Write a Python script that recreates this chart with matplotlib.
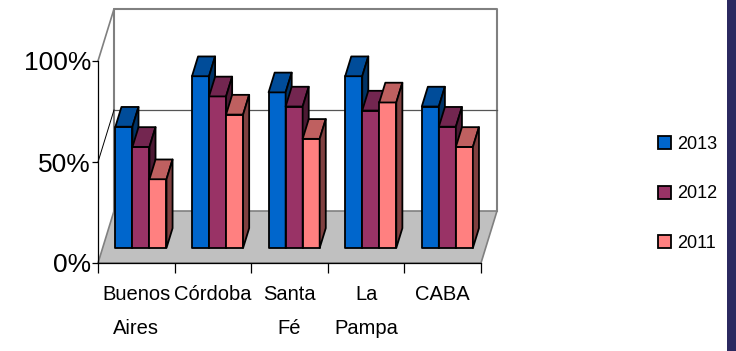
import numpy as np
import matplotlib.pyplot as plt
from matplotlib.patches import Polygon, Patch, Rectangle

# share of each province per year (%)
provinces = ["Buenos\nAires", "Córdoba", "Santa\nFé", "La\nPampa", "CABA"]
years = ["2013", "2012", "2011"]
v2013 = [60, 85, 77, 85, 70]
v2012 = [50, 75, 70, 68, 60]
v2011 = [34, 66, 54, 72, 50]
series = [v2013, v2012, v2011]

# face colours: front, top, side
front = ["#0066CC", "#993366", "#FF8080"]
top = ["#004C99", "#732650", "#BF6060"]
side = ["#003366", "#4C1933", "#804040"]

plt.rcParams['font.family'] = ['Liberation Sans', 'DejaVu Sans']

W, H = 736, 351
fig = plt.figure(figsize=(W / 100, H / 100), dpi=100)
# front plane: x 98..481 px, y 61..263 px
ax = fig.add_axes([98 / W, 1 - 263 / H, (481 - 98) / W, (263 - 61) / H])
ncat = len(provinces)
ax.set_xlim(0, ncat)
ax.set_ylim(0, 100)

# oblique depth offset (data units) of the whole chart box
DX, DY = 16 / 76.6, 52 / 2.02
wall = "#808080"

# floor
floor = Polygon([(0, 0), (ncat, 0), (ncat + DX, DY), (DX, DY)], closed=True,
                facecolor="#C0C0C0", edgecolor=wall, lw=1.2, clip_on=False, zorder=1)
ax.add_patch(floor)
# back wall outline and gridline
ax.plot([DX, DX, ncat + DX, ncat + DX], [DY, 100 + DY, 100 + DY, DY],
        color=wall, lw=1.5, clip_on=False, zorder=1)
ax.plot([DX, ncat + DX], [50 + DY, 50 + DY], color="#555555", lw=0.9,
        clip_on=False, zorder=1)
# side wall lines
ax.plot([0, DX], [100, 100 + DY], color=wall, lw=1.2, clip_on=False, zorder=1)
ax.plot([0, DX], [50, 50 + DY], color="black", lw=0.7, clip_on=False, zorder=1)

# bars sit partway into the depth
d0, d1 = 0.29, 0.67
bw = 0.667 / len(series)
for i in range(ncat):
    x0 = i + 0.5 - 1.5 * bw
    for j, vals in enumerate(series):
        xl = x0 + j * bw + d0 * DX
        yb = d0 * DY
        yt = yb + vals[i]
        ox, oy = (d1 - d0) * DX, (d1 - d0) * DY
        kw = dict(closed=True, edgecolor="black", lw=1.3, clip_on=False,
                  joinstyle="round", zorder=3)
        ax.add_patch(Polygon([(xl, yb), (xl + bw, yb), (xl + bw, yt), (xl, yt)],
                             facecolor=front[j], **kw))
        ax.add_patch(Polygon([(xl, yt), (xl + bw, yt), (xl + bw + ox, yt + oy),
                              (xl + ox, yt + oy)], facecolor=top[j], **kw))
        ax.add_patch(Polygon([(xl + bw, yb), (xl + bw + ox, yb + oy),
                              (xl + bw + ox, yt + oy), (xl + bw, yt)],
                             facecolor=side[j], **kw))

# axes
for s in ["top", "right"]:
    ax.spines[s].set_visible(False)
ax.spines["left"].set_color("black")
ax.spines["bottom"].set_color("black")
ax.spines["left"].set_linewidth(0.9)
ax.spines["bottom"].set_linewidth(0.9)
ax.set_yticks([0, 50, 100])
ax.set_yticklabels(["0%", "50%", "100%"], fontsize=19)
ax.tick_params(axis="y", length=4, width=0.9, pad=1)
ax.set_xticks(np.arange(ncat + 1))
ax.set_xticklabels([])
ax.tick_params(axis="x", which="major", length=7, width=0.9)
ax.set_xticks(np.arange(ncat) + 0.5, minor=True)
ax.set_xticklabels(provinces, minor=True, fontsize=14.5, linespacing=2.0)
ax.tick_params(axis="x", which="minor", length=0, pad=16)
ax.set_facecolor("none")

handles = [Patch(facecolor=front[j], edgecolor="black", lw=1.3) for j in range(3)]
fig.legend(handles, years, loc="center left", bbox_to_anchor=(642 / W, 1 - 194 / H),
           frameon=False, fontsize=13, handlelength=0.72, handleheight=0.72,
           handletextpad=0.3, labelspacing=1.8)

fig.patches.append(Rectangle((727 / W, 0), 9 / W, 1, transform=fig.transFigure,
                             facecolor="#2B2960", edgecolor="none"))

fig.savefig("out.png", dpi=100)
